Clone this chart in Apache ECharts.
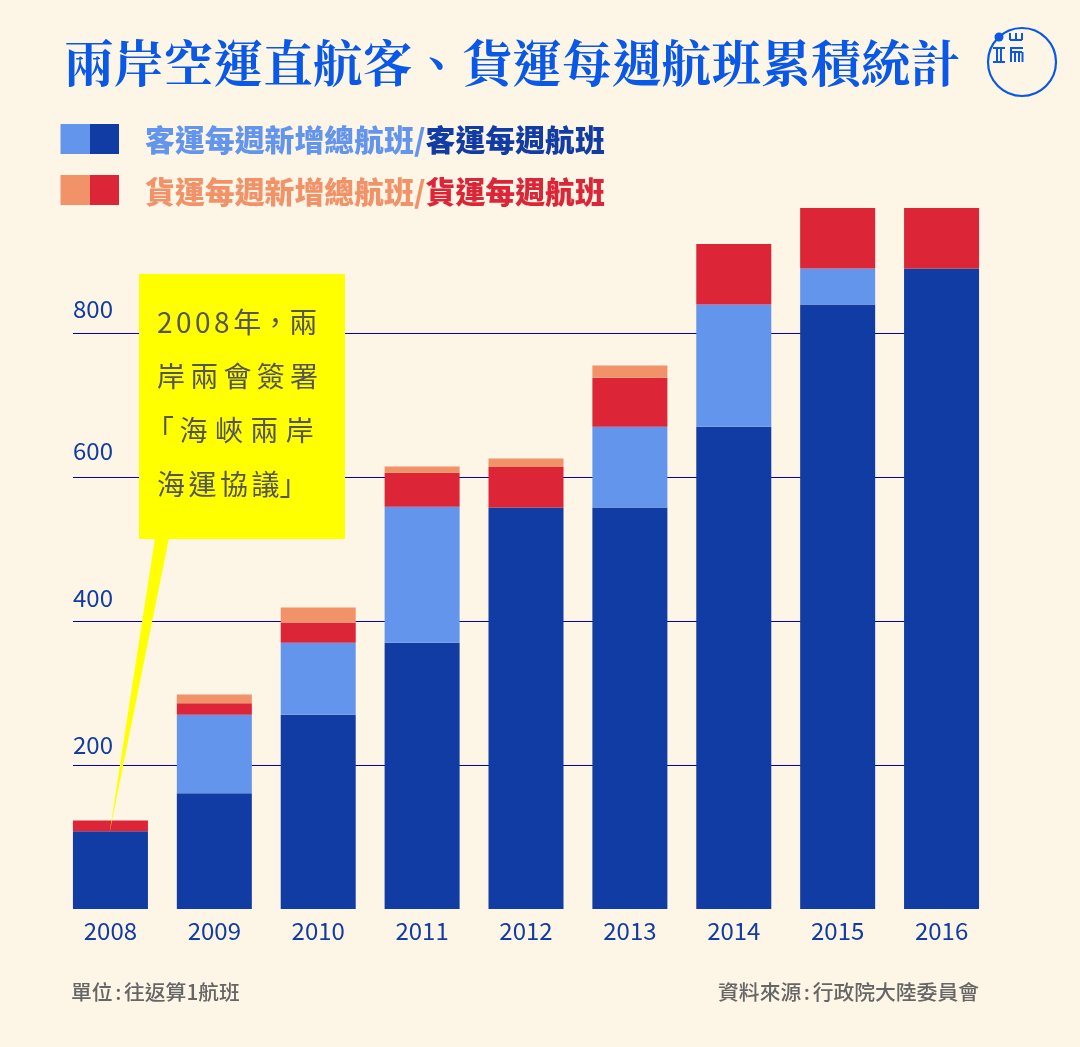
<!DOCTYPE html>
<html>
<head>
<meta charset="utf-8">
<style>html,body{margin:0;padding:0;background:#fdf5e6}#chart{width:1080px;height:1047px}</style>
<script src="https://cdn.jsdelivr.net/npm/echarts@6/dist/echarts.min.js"></script>
</head>
<body>
<div id="chart"></div>
<script>
var years = ['2008', '2009', '2010', '2011', '2012', '2013', '2014', '2015', '2016'];
var passenger = [108, 161, 270, 370, 558, 558, 670, 840, 890];
var passengerNew = [0, 109, 100, 189, 0, 112, 170, 50, 0];
var freight = [15, 16, 28, 47, 56, 68, 84, 84, 84];
var freightNew = [0, 12, 21, 9, 12, 17, 0, 0, 0];
var yTicks = [200, 400, 600, 800];

var titleText = '兩岸空運直航客、貨運每週航班累積統計';
var H = '\u200a', T = '\u2009'; // 字距用的窄空白
var noteLines = [
    '2' + H + H + '0' + H + H + '0' + H + H + '8' + H + H + '年，兩',
    ['岸', '兩', '會', '簽', '署'].join(H + H + H),
    '「' + T + '海' + T + H + '峽' + T + H + '兩' + T + H + '岸',
    ['海', '運', '協', '議'].join(H + H) + '」'
];
var noteOffset = [0, 0, -11, 0];
var unitText = '單位' + H + H + ':' + H + H + '往返算1航班';
var sourceText = '資料來源' + H + H + ':' + H + H + '行政院大陸委員會';

var BG = '#fdf5e6', NAVY = '#113ca3', SKY = '#6495ed', RED = '#dc2537', ORANGE = '#f29268', BLUE = '#0a58e8';
var FONT = '"Noto Sans CJK TC", "Noto Sans CJK SC", sans-serif';

var dom = document.getElementById('chart');
var myChart = echarts.init(dom);

function stack(name, values, color) {
    return {
        name: name,
        type: 'bar',
        stack: 'total',
        barWidth: 75,
        xAxisIndex: 0,
        yAxisIndex: 0,
        data: values,
        itemStyle: {color: color}
    };
}

// 圖例兩行
function legendRow(y, textY, light, dark, a, b) {
    return [
        {type: 'rect', z: 100, shape: {x: 60.5, y: y - 15, width: 29.5, height: 30}, style: {fill: light}},
        {type: 'rect', z: 100, shape: {x: 90, y: y - 15, width: 29, height: 30}, style: {fill: dark}},
        {
            type: 'text', z: 100, x: 145, y: textY,
            style: {
                text: '{a|' + a + '/}{b|' + b + '}',
                verticalAlign: 'middle',
                rich: {
                    a: {fill: light, font: '900 29.9px ' + FONT},
                    b: {fill: dark, font: '900 29.9px ' + FONT}
                }
            }
        }
    ];
}

var logoBars = [
    [1010, 40, 1022, 40], [1010, 33, 1010, 40], [1016, 33, 1016, 40], [1022, 33, 1022, 40],
    [993, 48, 1005, 48], [993, 62, 1005, 62], [997, 48, 997, 62], [1001, 48, 1001, 62],
    [1010, 48, 1023, 48], [1011, 52, 1022, 52], [1011, 48, 1011, 62], [1015, 52, 1015, 62],
    [1019, 52, 1019, 62], [1022.5, 52, 1022.5, 62]
];

var graphics = [
    {type: 'text', z: 100, x: 64, y: 63, style: {text: titleText, fill: BLUE, verticalAlign: 'middle', font: '700 49.8px "Noto Serif CJK TC", ' + FONT}},
    {type: 'circle', z: 100, shape: {cx: 1022, cy: 62, r: 34}, style: {fill: 'none', stroke: BLUE, lineWidth: 2.2}},
    {type: 'circle', z: 100, shape: {cx: 999, cy: 37, r: 4.5}, style: {fill: BLUE}},
    // 黃色標註
    {type: 'polygon', z: 100, shape: {points: [[155, 538], [169, 538], [109.5, 833]]}, style: {fill: '#ffff00'}},
    {type: 'rect', z: 100, shape: {x: 139, y: 274, width: 206, height: 265}, style: {fill: '#ffff00'}},
    {type: 'text', z: 100, x: 71, y: 992, style: {text: unitText, fill: '#666666', verticalAlign: 'middle', font: '500 20.8px ' + FONT}},
    {type: 'text', z: 100, x: 979, y: 992, style: {text: sourceText, fill: '#666666', align: 'right', verticalAlign: 'middle', font: '500 20.8px ' + FONT}}
];

logoBars.forEach(function (b) {
    graphics.push({type: 'line', z: 100, shape: {x1: b[0], y1: b[1], x2: b[2], y2: b[3]}, style: {stroke: BLUE, lineWidth: 2}});
});
noteLines.forEach(function (line, i) {
    graphics.push({
        type: 'text', z: 101, x: 157 + noteOffset[i], y: 322 + i * 54,
        style: {text: line, fill: '#555555', verticalAlign: 'middle', font: '400 28px ' + FONT}
    });
});
graphics = graphics.concat(legendRow(139, 140, SKY, NAVY, '客運每週新增總航班', '客運每週航班'));
graphics = graphics.concat(legendRow(190, 192, ORANGE, RED, '貨運每週新增總航班', '貨運每週航班'));

// 刻度字的高低原圖並不等距
var labelLift = {200: 8, 400: 11, 600: 14, 800: 12};
var richLabels = {};
yTicks.forEach(function (t) {
    richLabels['t' + t] = {padding: [0, 0, labelLift[t], 0], color: NAVY, fontSize: 24, fontFamily: FONT};
});

option = {
    animation: false,
    backgroundColor: BG,
    graphic: graphics,
    grid: [
        {left: 58.5, width: 935, top: 208, bottom: 138},
        {left: 73, width: 906, top: 208, bottom: 138}
    ],
    xAxis: [
        {
            type: 'category',
            gridIndex: 0,
            data: years,
            axisLine: {show: false},
            axisTick: {show: false},
            axisLabel: {color: NAVY, fontSize: 24, fontFamily: FONT, margin: 10}
        },
        {type: 'value', gridIndex: 1, show: false, min: 0, max: 1}
    ],
    yAxis: [
        {type: 'value', gridIndex: 0, min: 0, max: 974, show: false, splitLine: {show: false}},
        {
            type: 'value',
            gridIndex: 1,
            min: 0,
            max: 974,
            interval: 200,
            axisLine: {show: false},
            axisTick: {show: false},
            axisLabel: {
                inside: true,
                margin: 0,
                verticalAlign: 'bottom',
                formatter: function (v) {
                    return yTicks.indexOf(v) >= 0 ? '{t' + v + '|' + v + '}' : '';
                },
                rich: richLabels
            },
            splitLine: {
                show: true,
                showMinLine: false,
                showMaxLine: false,
                lineStyle: {color: '#0000c8', width: 1}
            }
        }
    ],
    series: [
        stack('客運每週航班', passenger, NAVY),
        stack('客運每週新增總航班', passengerNew, SKY),
        stack('貨運每週航班', freight, RED),
        stack('貨運每週新增總航班', freightNew, ORANGE),
        {type: 'line', xAxisIndex: 1, yAxisIndex: 1, data: [], silent: true}
    ]
};

myChart.setOption(option);
</script>
</body>
</html>
